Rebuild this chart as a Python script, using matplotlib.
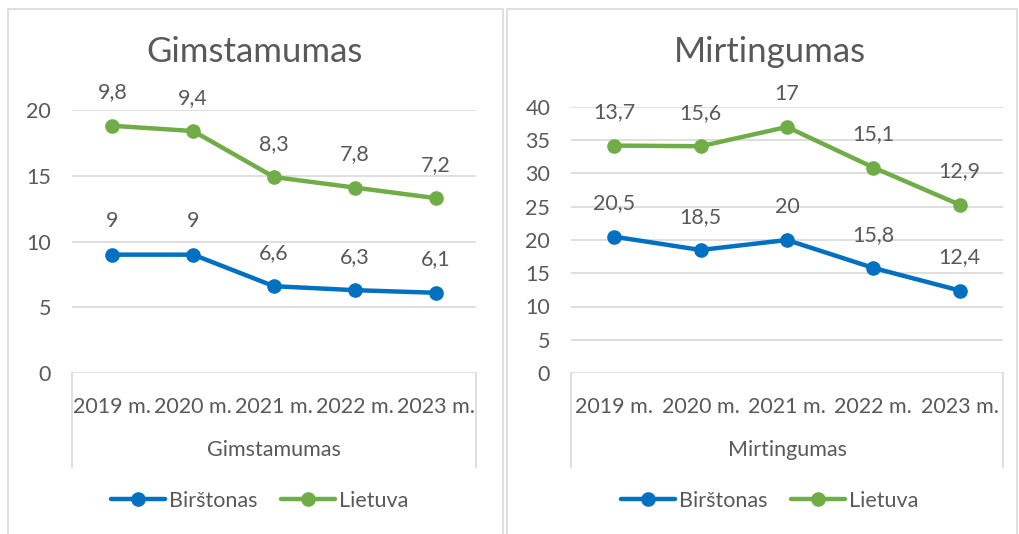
import matplotlib
matplotlib.use('Agg')
import matplotlib.pyplot as plt
from matplotlib.patches import Rectangle
from matplotlib.lines import Line2D

plt.rcParams['font.family'] = ['Lato', 'DejaVu Sans']

years = ['2019 m.', '2020 m.', '2021 m.', '2022 m.', '2023 m.']

birth_birstonas = [9, 9, 6.6, 6.3, 6.1]
birth_lietuva = [9.8, 9.4, 8.3, 7.8, 7.2]

death_birstonas = [20.5, 18.5, 20, 15.8, 12.4]
death_lietuva = [13.7, 15.6, 17, 15.1, 12.9]

BLUE = '#0070C0'
GREEN = '#70AD47'
TXT = '#595959'
GRID = '#D9D9D9'
FS = 15.5

W, H = 1019, 534
fig = plt.figure(figsize=(W / 100, H / 100), dpi=100)


def px_box(x0, y0, x1, y1):
    # pixel box (top-left origin) -> figure fraction rect
    return [x0 / W, (H - y1) / H, (x1 - x0) / W, (y1 - y0) / H]


def fmt(v):
    s = ('%.1f' % v).rstrip('0').rstrip('.')
    return s.replace('.', ',')


def panel(box, frame, title, title_xy, base, top, ymax, ystep, legend_x):
    fig.patches.append(Rectangle((frame[0] / W, (H - frame[3]) / H),
                                 (frame[2] - frame[0]) / W, (frame[3] - frame[1]) / H,
                                 transform=fig.transFigure, fill=False,
                                 edgecolor=GRID, linewidth=1.2))
    fig.text(title_xy[0] / W, 1 - title_xy[1] / H, title, ha='center', va='center',
             fontsize=25, color=TXT)

    ax = fig.add_axes(px_box(*box))
    x = list(range(len(years)))
    stacked = [b + l for b, l in zip(base, top)]
    ax.plot(x, base, color=BLUE, lw=3.2, marker='o', ms=9.5, label='Birštonas',
            solid_capstyle='round', zorder=3)
    ax.plot(x, stacked, color=GREEN, lw=3.2, marker='o', ms=9.5, label='Lietuva',
            solid_capstyle='round', zorder=3)
    for xi, yv, v in zip(x, base, base):
        ax.annotate(fmt(v), (xi, yv), xytext=(0, 24), textcoords='offset points',
                    ha='center', va='center', fontsize=FS, color=TXT)
    for xi, yv, v in zip(x, stacked, top):
        ax.annotate(fmt(v), (xi, yv), xytext=(0, 24), textcoords='offset points',
                    ha='center', va='center', fontsize=FS, color=TXT)

    ax.set_xlim(-0.5, len(years) - 0.5)
    ax.set_ylim(0, ymax)
    ax.set_yticks(range(0, ymax + 1, ystep))
    ax.yaxis.grid(True, color=GRID, lw=1.2)
    ax.set_axisbelow(True)
    for s in ax.spines.values():
        s.set_visible(False)
    ax.tick_params(axis='y', length=0, labelsize=FS, labelcolor=TXT, pad=15)
    ax.tick_params(axis='x', length=0, labelsize=FS, labelcolor=TXT, pad=17)
    ax.set_xticks(x)
    ax.set_xticklabels(years)

    # multi-level category box
    hgt = box[3] - box[1]
    ybot = -(467 - box[3]) / hgt
    for xx in (0, 1):
        ax.add_line(Line2D([xx, xx], [0, ybot], transform=ax.transAxes, color=GRID,
                           lw=1.2, clip_on=False))
    ax.text(0.5, -(450 - box[3]) / hgt, title, transform=ax.transAxes, ha='center',
            va='center', fontsize=FS, color=TXT)

    ax.legend(loc='center', bbox_to_anchor=(legend_x, -(501 - box[3]) / hgt), ncol=2,
              frameon=False, fontsize=FS, labelcolor=TXT, handlelength=2.5,
              handletextpad=0.2, columnspacing=1.1)
    return ax


panel((72, 110, 476, 373), (8, 9, 503, 540), 'Gimstamumas', (255, 52),
      birth_birstonas, birth_lietuva, 20, 5, 0.465)
panel((571, 107, 1003, 373), (507, 9, 1017, 540), 'Mirtingumas', (770, 52),
      death_birstonas, death_lietuva, 40, 5, 0.46)

fig.savefig('out.png', dpi=100)
